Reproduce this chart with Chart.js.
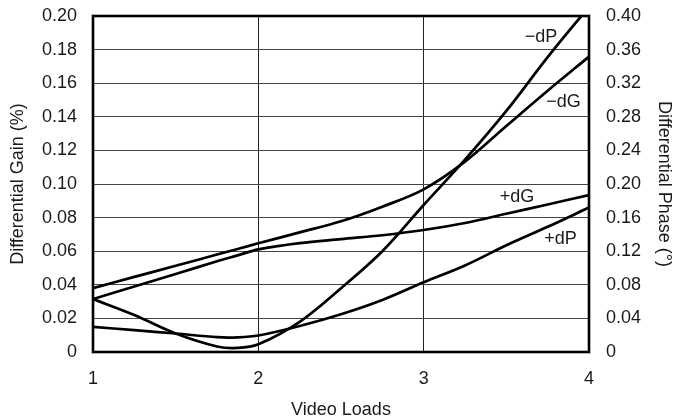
<!DOCTYPE html>
<html>
<head>
<meta charset="utf-8">
<script src="https://cdn.jsdelivr.net/npm/chart.js@4/dist/chart.umd.min.js"></script>
<style>
  html, body { margin: 0; padding: 0; background: #fff; }
  #wrap { width: 675px; height: 418px; position: relative; }
</style>
</head>
<body>
<div id="wrap"><canvas id="c"></canvas></div>
<script>
// video loads on the x axis, shared by all four curves
const LOADS = [1, 1.25, 1.5, 1.75, 1.875, 2, 2.25, 2.5, 2.75, 3, 3.25, 3.5, 3.75, 4];
// differential gain (%), left axis
const GAIN_NEG = [0.038, 0.0447, 0.0513, 0.058, 0.0613, 0.0647, 0.0712, 0.0778, 0.0865, 0.0968, 0.1133, 0.1345, 0.1555, 0.1758];
const GAIN_POS = [0.0315, 0.039, 0.0464, 0.054, 0.0575, 0.0611, 0.0648, 0.0672, 0.0695, 0.0726, 0.0768, 0.0823, 0.0878, 0.0934];
// differential phase (deg), right axis
const PHASE_NEG = [0.063, 0.044, 0.022, 0.0066, 0.0048, 0.0092, 0.036, 0.076, 0.120, 0.175, 0.229, 0.287, 0.351, 0.411];
const PHASE_POS = [0.030, 0.026, 0.022, 0.0176, 0.0174, 0.0196, 0.031, 0.045, 0.062, 0.083, 0.103, 0.127, 0.149, 0.172];
// curve labels, placed in load / gain units
const LABEL_TEXT = ['\u2212dP', '\u2212dG', '+dG', '+dP'];
const LABEL_X = [3.71, 3.846, 3.564, 3.828];
const LABEL_Y = [0.1872, 0.1485, 0.092, 0.0673];

const FONT = { family: "'Liberation Sans', Arial, Helvetica, sans-serif", size: 18 };
const INK = '#1a1a1a';

const pts = vals => vals.map((v, i) => ({ x: LOADS[i], y: v }));
const curve = (label, vals, axis) => ({
  label, data: pts(vals), yAxisID: axis,
  borderColor: '#000', borderWidth: 2.7, pointRadius: 0,
  tension: 0.35, fill: false
});
// fixed axis boxes so the plot frame lands where the original has it
const fixW = w => s => { s.width = w; s.paddingTop = 0; s.paddingBottom = 0; };

const frame = {
  id: 'frame',
  afterDatasetsDraw(chart) {
    const { ctx, chartArea: a, scales: { x, y } } = chart;
    ctx.save();
    ctx.font = `${FONT.size}px ${FONT.family}`;
    ctx.fillStyle = INK; ctx.textAlign = 'center'; ctx.textBaseline = 'middle';
    LABEL_TEXT.forEach((t, i) => ctx.fillText(t, x.getPixelForValue(LABEL_X[i]), y.getPixelForValue(LABEL_Y[i])));
    ctx.strokeStyle = '#000'; ctx.lineWidth = 2.6;
    ctx.strokeRect(a.left, a.top, a.right - a.left, a.bottom - a.top);
    ctx.restore();
  }
};

new Chart(document.getElementById('c'), {
  type: 'line',
  data: {
    datasets: [
      curve('-dG', GAIN_NEG, 'y'),
      curve('+dG', GAIN_POS, 'y'),
      curve('-dP', PHASE_NEG, 'y1'),
      curve('+dP', PHASE_POS, 'y1')
    ]
  },
  options: {
    responsive: true, maintainAspectRatio: false, animation: false,
    layout: { padding: { top: 16, left: 0, right: 0, bottom: 0 } },
    plugins: { legend: { display: false }, tooltip: { enabled: false } },
    scales: {
      x: {
        type: 'linear', min: 1, max: 4,
        afterFit: s => { s.height = 66; s.paddingLeft = 0; s.paddingRight = 0; },
        ticks: { stepSize: 1, color: INK, font: FONT, padding: 16 },
        grid: { color: '#222', lineWidth: 1, drawTicks: false },
        border: { display: false },
        title: { display: true, text: 'Video Loads', color: INK, font: FONT, padding: { top: 0, bottom: -3 } }
      },
      y: {
        position: 'left', min: 0, max: 0.2,
        afterFit: fixW(93),
        ticks: { stepSize: 0.02, color: INK, font: FONT, padding: 16,
                 callback: v => v === 0 ? '0' : v.toFixed(2) },
        grid: { color: '#444', lineWidth: 1, drawTicks: false },
        border: { display: false },
        title: { display: true, text: 'Differential Gain (%)', color: INK, font: FONT, padding: { top: 7, bottom: 0 } }
      },
      y1: {
        position: 'right', min: 0, max: 0.4,
        afterFit: fixW(86),
        ticks: { stepSize: 0.04, color: INK, font: FONT, padding: 17,
                 callback: v => v === 0 ? '0' : v.toFixed(2) },
        grid: { display: false, drawTicks: false },
        border: { display: false },
        title: { display: true, text: 'Differential Phase (\u00b0)', color: INK, font: FONT, padding: { top: 0, bottom: 0 } }
      }
    }
  },
  plugins: [frame]
});
</script>
</body>
</html>
